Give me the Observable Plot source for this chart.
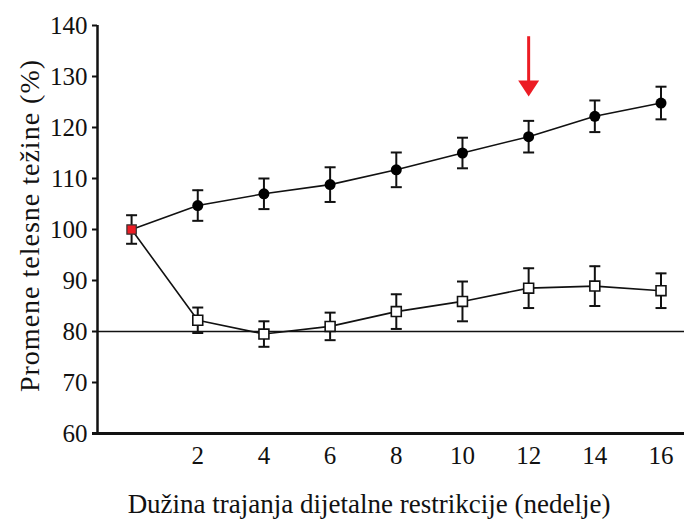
<!DOCTYPE html>
<html>
<head>
<meta charset="utf-8">
<script src="https://cdn.jsdelivr.net/npm/d3@7"></script>
<script src="https://cdn.jsdelivr.net/npm/@observablehq/plot@0.6"></script>
<style>
  html, body { margin: 0; padding: 0; background: #fff; }
  #chart svg { display: block; }
  #chart svg text { font-family: "Liberation Serif", "Times New Roman", serif !important; }
  #chart svg g[aria-label="y-axis tick label"] text,
  #chart svg g[aria-label="x-axis tick label"] text { font-size: 25px !important; }
</style>
</head>
<body>
<div id="chart"></div>
<script>
// Weeks of dietary restriction
const weeks = [0, 2, 4, 6, 8, 10, 12, 14, 16];
// Body weight change (%) – group that gained weight (filled circles)
const gainMean = [100, 104.7, 107.0, 108.8, 111.7, 115.0, 118.2, 122.2, 124.8];
const gainErr  = [2.8, 3.0, 3.0, 3.4, 3.4, 3.0, 3.1, 3.1, 3.2];
// Body weight change (%) – group that lost weight (open squares)
const lossMean = [100, 82.2, 79.5, 81.0, 83.9, 85.9, 88.5, 88.9, 88.0];
const lossErr  = [2.8, 2.5, 2.5, 2.7, 3.4, 3.9, 3.9, 3.9, 3.4];
// Axis ticks and labels
const yTicks = [60, 70, 80, 90, 100, 110, 120, 130, 140];
const xTicks = [2, 4, 6, 8, 10, 12, 14, 16];
const referenceLevel = 80;
const yLabel = "Promene telesne težine (%)";
const xLabel = "Dužina trajanja dijetalne restrikcije (nedelje)";
// Marker arrow at week 12
const arrowWeek = 12;
const arrowTop = 137.8;
const arrowTip = 126.1;

const gain = weeks.map((w, i) => ({week: w, mean: gainMean[i], lo: gainMean[i] - gainErr[i], hi: gainMean[i] + gainErr[i]}));
const loss = weeks.map((w, i) => ({week: w, mean: lossMean[i], lo: lossMean[i] - lossErr[i], hi: lossMean[i] + lossErr[i]}));
const baseline = gain.slice(0, 1);
const gainPts = gain.slice(1);
const lossPts = loss.slice(1);

// Custom symbols: horizontal error-bar cap and downward arrowhead
const cap = {draw(ctx) { ctx.moveTo(-5.5, 0); ctx.lineTo(5.5, 0); }};
const head = {draw(ctx) { ctx.moveTo(-10.5, -16); ctx.lineTo(10.5, -16); ctx.lineTo(0, 0); ctx.closePath(); }};

const errorMarks = (data) => [
  Plot.ruleX(data, {x: "week", y1: "lo", y2: "hi", stroke: "#111", strokeWidth: 2}),
  Plot.dot(data, {x: "week", y: "lo", symbol: cap, r: 6, stroke: "#111", strokeWidth: 2, fill: "none"}),
  Plot.dot(data, {x: "week", y: "hi", symbol: cap, r: 6, stroke: "#111", strokeWidth: 2, fill: "none"})
];

const chart = Plot.plot({
  width: 684,
  height: 519,
  marginLeft: 97,
  marginRight: 0,
  marginTop: 25,
  marginBottom: 86,
  style: {background: "#fff", overflow: "visible", color: "#111"},
  x: {domain: [-1.03, 16.71]},
  y: {domain: [60, 140]},
  marks: [
    Plot.axisY({ticks: yTicks, tickSize: 5, tickPadding: 5, strokeWidth: 2, fontSize: 25, label: null}),
    Plot.axisX({ticks: xTicks, tickSize: 0, tickPadding: 13, fontSize: 25, label: null}),
    Plot.ruleY([referenceLevel], {stroke: "#111", strokeWidth: 1.5}),
    Plot.line(gain, {x: "week", y: "mean", stroke: "#111", strokeWidth: 1.6}),
    Plot.line(loss, {x: "week", y: "mean", stroke: "#111", strokeWidth: 1.6}),
    ...errorMarks(gain),
    ...errorMarks(lossPts),
    Plot.dot(gainPts, {x: "week", y: "mean", r: 5.5, fill: "#000", stroke: "none"}),
    Plot.dot(lossPts, {x: "week", y: "mean", symbol: "square", r: 5.6, fill: "#fff", stroke: "#111", strokeWidth: 1.6}),
    Plot.dot(baseline, {x: "week", y: "mean", symbol: "square", r: 5.3, fill: "#ec1c24", stroke: "#333", strokeWidth: 1.2}),
    // axis lines
    Plot.ruleX([-1.03], {stroke: "#111", strokeWidth: 2.5}),
    Plot.ruleY([60], {stroke: "#111", strokeWidth: 3, insetLeft: -5}),
    // red arrow
    Plot.ruleX([arrowWeek], {y1: arrowTip + 2, y2: arrowTop, stroke: "#ec1c24", strokeWidth: 3}),
    Plot.dot([arrowWeek], {x: d => d, y: () => arrowTip, symbol: head, r: 6, fill: "#ec1c24", stroke: "none"}),
    // axis titles
    Plot.text([yLabel], {frameAnchor: "left", text: d => d, rotate: -90, textAnchor: "middle", lineAnchor: "middle", dx: -67, dy: -4, fontSize: 28, fill: "#111"}),
    Plot.text([xLabel], {frameAnchor: "bottom", text: d => d, textAnchor: "middle", lineAnchor: "middle", dx: -22, dy: 71, fontSize: 27, fill: "#111"})
  ]
});

// slightly wider tracking for the vertical title
d3.select(chart).selectAll("text")
  .filter(function() { return this.textContent === yLabel; })
  .attr("letter-spacing", "1px");

document.getElementById("chart").appendChild(chart);
</script>
</body>
</html>
